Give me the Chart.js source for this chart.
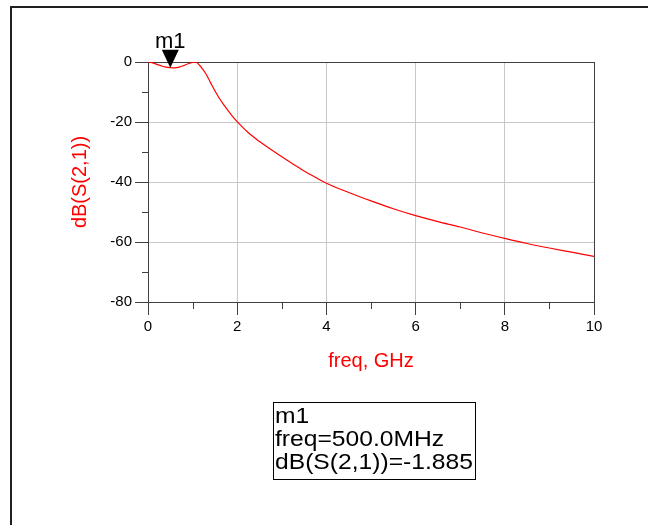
<!DOCTYPE html>
<html>
<head>
<meta charset="utf-8">
<script src="https://cdn.jsdelivr.net/npm/chart.js@4.4.1/dist/chart.umd.min.js"></script>
<style>
  body { margin: 0; background: #fff; }
  #s21 { display: block; }
</style>
</head>
<body>
<canvas id="s21" width="648" height="525"></canvas>
<script>
// S21 response
var freqGHz = [0, 0.1, 0.2, 0.3, 0.4, 0.5, 0.6, 0.7, 0.8, 0.9, 1.0, 1.07, 1.15, 1.2, 1.3, 1.4, 1.5,
  1.6, 1.7, 1.8, 1.9, 2.0, 2.25, 2.5, 2.75, 3.0, 3.25, 3.5, 3.75, 4.0, 4.5, 5.0, 5.5, 6.0,
  6.5, 7.0, 7.5, 8.0, 8.5, 9.0, 9.5, 10.0];
var dbS21 = [0, -0.3, -0.8, -1.3, -1.7, -1.885, -1.95, -1.7, -1.2, -0.6, -0.15, 0, -1.0, -1.9, -4.0, -6.8, -9.6,
  -12.1, -14.3, -16.3, -18.2, -19.9, -23.6, -26.5, -29.1, -31.6, -34.0, -36.3, -38.4, -40.4, -43.5, -46.3, -48.9, -51.2,
  -53.2, -55.0, -57.0, -58.8, -60.5, -62.0, -63.4, -64.8];

var xMinorTicks = [1, 3, 5, 7, 9];
var yMinorTicks = [-10, -30, -50, -70];

// marker m1
var markerName = "m1";
var markerFreq = 0.5;
var markerDb = -1.885;
var markerLines = ["m1", "freq=500.0MHz", "dB(S(2,1))=-1.885"];

var FONT = "'Liberation Sans', Arial, sans-serif";
var axisDark = "#404040";
var gridGray = "#c8c8c8";

var adsDecor = {
  id: 'adsDecor',
  beforeDraw: function (chart) {
    var ctx = chart.ctx;
    ctx.save();
    ctx.fillStyle = "#fff";
    ctx.fillRect(0, 0, chart.width, chart.height);
    // outer frame (only top and left are in view)
    ctx.strokeStyle = "#202020";
    ctx.lineWidth = 2;
    ctx.beginPath();
    ctx.moveTo(11, chart.height);
    ctx.lineTo(11, 7);
    ctx.lineTo(chart.width, 7);
    ctx.stroke();
    ctx.restore();
  },
  afterDatasetsDraw: function (chart) {
    var ctx = chart.ctx;
    var xs = chart.scales.x, ys = chart.scales.y;
    var area = chart.chartArea;
    ctx.save();
    // minor ticks
    ctx.strokeStyle = axisDark;
    ctx.lineWidth = 1;
    ctx.beginPath();
    xMinorTicks.forEach(function (v) {
      var px = Math.round(xs.getPixelForValue(v)) + 0.5;
      ctx.moveTo(px, area.bottom);
      ctx.lineTo(px, area.bottom + 7);
    });
    yMinorTicks.forEach(function (v) {
      var py = Math.round(ys.getPixelForValue(v)) + 0.5;
      ctx.moveTo(area.left - 6, py);
      ctx.lineTo(area.left, py);
    });
    ctx.stroke();

    // marker triangle + name
    var mx = xs.getPixelForValue(markerFreq);
    var my = ys.getPixelForValue(markerDb);
    ctx.fillStyle = "#000";
    ctx.beginPath();
    ctx.moveTo(mx, my);
    ctx.lineTo(mx - 8.5, my - 18);
    ctx.lineTo(mx + 8.5, my - 18);
    ctx.closePath();
    ctx.fill();
    ctx.font = "22px " + FONT;
    ctx.textAlign = "center";
    ctx.textBaseline = "alphabetic";
    ctx.fillText(markerName, mx, my - 20);

    // marker readout box
    ctx.strokeStyle = "#000";
    ctx.lineWidth = 1;
    ctx.strokeRect(273.5, 402.5, 202, 77);
    ctx.textAlign = "left";
    markerLines.forEach(function (t, i) {
      ctx.save();
      ctx.translate(275, 423 + i * 23);
      ctx.scale(1.12, 1);
      ctx.fillText(t, 0, 0);
      ctx.restore();
    });
    ctx.restore();
  }
};

new Chart(document.getElementById("s21"), {
  type: 'line',
  data: {
    datasets: [{
      label: "dB(S(2,1))",
      data: freqGHz.map(function (f, i) { return { x: f, y: dbS21[i] }; }),
      borderColor: "#ff0000",
      borderWidth: 1.2,
      pointRadius: 0,
      fill: false,
      cubicInterpolationMode: 'monotone'
    }]
  },
  options: {
    responsive: false,
    animation: false,
    layout: { padding: { left: 68, top: 62, right: 54, bottom: 152 } },
    plugins: { legend: { display: false }, tooltip: { enabled: false } },
    scales: {
      x: {
        type: 'linear',
        min: 0, max: 10,
        ticks: { stepSize: 2, color: "#000", font: { family: FONT, size: 15 }, padding: 3, maxRotation: 0, autoSkip: false },
        grid: {
          color: function (c) { return c.tick && c.tick.value === 10 ? axisDark : gridGray; },
          tickColor: axisDark,
          tickLength: 13
        },
        border: { display: true, color: axisDark },
        title: { display: true, text: "freq, GHz", color: "#ff0000", font: { family: FONT, size: 20 }, padding: 0 },
        afterFit: function (s) { s.height = 71; s.paddingLeft = 0; s.paddingRight = 0; }
      },
      y: {
        min: -80, max: 0,
        ticks: { stepSize: 20, color: "#000", font: { family: FONT, size: 15 }, padding: 3 },
        grid: {
          color: function (c) { return c.tick && c.tick.value === 0 ? axisDark : gridGray; },
          tickColor: axisDark,
          tickLength: 13
        },
        border: { display: true, color: axisDark },
        title: { display: true, text: "dB(S(2,1))", color: "#ff0000", font: { family: FONT, size: 20 }, padding: 0 },
        afterFit: function (s) { s.width = 80; s.paddingTop = 0; s.paddingBottom = 0; }
      }
    }
  },
  plugins: [adsDecor]
});
</script>
</body>
</html>
